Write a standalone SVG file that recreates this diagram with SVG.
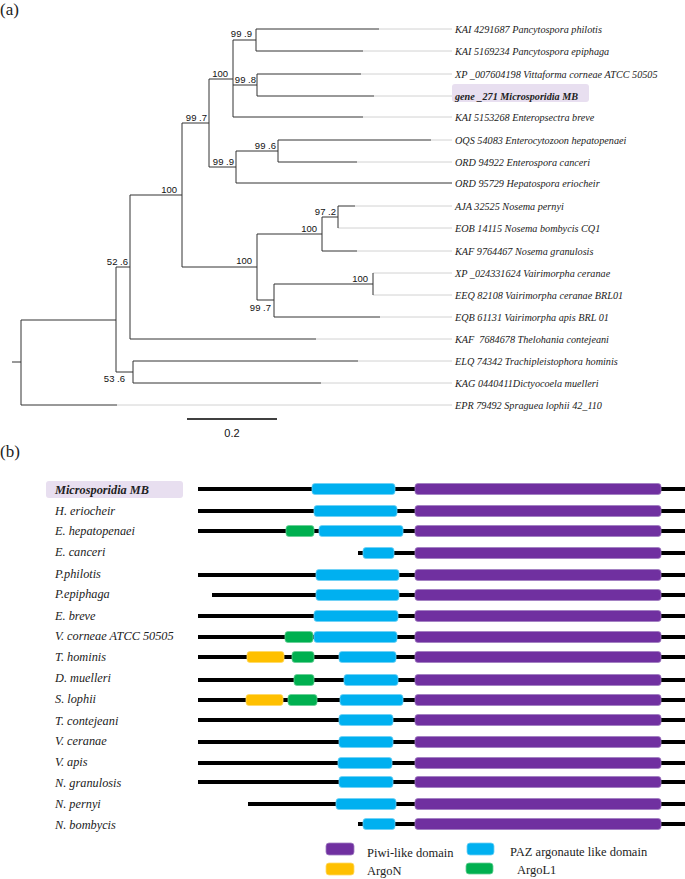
<svg xmlns="http://www.w3.org/2000/svg" width="685" height="879" viewBox="0 0 685 879">
<style>
.br{fill:none;stroke:#333;stroke-width:1}
.gr{fill:none;stroke:#d2d2d2;stroke-width:1}
.bs{font-family:"Liberation Sans",Arial,sans-serif;font-size:9.5px;fill:#111;text-anchor:end}
.lf{font-family:"Liberation Serif","Times New Roman",serif;font-style:italic;font-size:10.2px;fill:#222;white-space:pre}
.pl{font-family:"Liberation Serif","Times New Roman",serif;font-size:17px;fill:#222}
.sp{font-family:"Liberation Serif","Times New Roman",serif;font-style:italic;font-size:12.3px;fill:#222}
.lg{font-family:"Liberation Serif","Times New Roman",serif;font-size:12.5px;fill:#222}
.ln{fill:#000}
.pu{fill:#7030a0;stroke:#a07cc0;stroke-width:0.8}
.bl{fill:#00b0f0;stroke:#6fd0f5;stroke-width:0.8}
.ye{fill:#ffc000;stroke:#ffd966;stroke-width:0.8}
.gn{fill:#00b050;stroke:#66cf96;stroke-width:0.8}
.hl{fill:#e8dff0}
</style>
<text class="pl" x="0" y="15">(a)</text>
<text class="pl" x="0" y="457">(b)</text>
<g id="tree-connectors">
<path class="gr" d="M379 29H452M363 51H452M361 74H452M374 96H452M363 117H452M431 140H452M357 162H452M355 206H452M338 228H452M357 251H452M373 273H452M373 295H452M380 317H452M316 339H452M358 361H452M321 383H452M117 405H452"/>
<path class="br" d="M256 29H379M256 51H363M256 29V51M257 74H361M257 96H374M257 74V96M233 40H256M233 85H257M233 117H363M233 40V117M278 140H431M278 162H357M278 140V162M236 151H278M236 183H452M236 151V183M209 79H233M209 167H236M209 79V167M338 206H355M338 206V228M322 217H338M322 251H357M322 217V251M373 273V295M274 284H373M274 317H380M274 284V317M257 234H322M257 300H274M257 234V300M182 123H209M182 267H257M182 123V267M130 195H182M130 339H316M130 195V339M133 361H358M133 383H321M133 361V383M116 267H130M116 372H133M116 267V372M21 320H116M21 405H117M21 320V405M12 362H21"/>
<path d="M187 419H277" stroke="#000" stroke-width="1.3"/>
<text x="232" y="437" text-anchor="middle" font-family="Liberation Sans, Arial, sans-serif" font-size="11" fill="#111">0.2</text>
</g>
<g id="bootstrap">
<text class="bs" x="252" y="37">99 .9</text>
<text class="bs" x="228" y="77">100</text>
<text class="bs" x="256" y="83">99 .8</text>
<text class="bs" x="207" y="121">99 .7</text>
<text class="bs" x="177" y="193">100</text>
<text class="bs" x="276" y="149">99 .6</text>
<text class="bs" x="234" y="165">99 .9</text>
<text class="bs" x="336" y="215">97 .2</text>
<text class="bs" x="317" y="232">100</text>
<text class="bs" x="252" y="264">100</text>
<text class="bs" x="271" y="311">99 .7</text>
<text class="bs" x="368" y="282">100</text>
<text class="bs" x="128" y="265">52 .6</text>
<text class="bs" x="125" y="382">53 .6</text>
</g>
<g id="leaf-labels">
<g id="leaf0"><text class="lf" x="455" y="32.5">KAI 4291687 Pancytospora philotis</text></g>
<g id="leaf1"><text class="lf" x="455" y="54.5">KAI 5169234 Pancytospora epiphaga</text></g>
<g id="leaf2"><text class="lf" x="455" y="77.5">XP _007604198 Vittaforma corneae ATCC 50505</text></g>
<g id="leaf3"><rect class="hl" x="452" y="84" width="137" height="18" rx="3"/><text class="lf" x="455" y="99.5" font-weight="bold">gene _271 Microsporidia MB</text></g>
<g id="leaf4"><text class="lf" x="455" y="120.5">KAI 5153268 Enteropsectra breve</text></g>
<g id="leaf5"><text class="lf" x="455" y="143.5">OQS 54083 Enterocytozoon hepatopenaei</text></g>
<g id="leaf6"><text class="lf" x="455" y="165.5">ORD 94922 Enterospora canceri</text></g>
<g id="leaf7"><text class="lf" x="455" y="186.5">ORD 95729 Hepatospora eriocheir</text></g>
<g id="leaf8"><text class="lf" x="455" y="209.5">AJA 32525 Nosema pernyi</text></g>
<g id="leaf9"><text class="lf" x="455" y="231.5">EOB 14115 Nosema bombycis CQ1</text></g>
<g id="leaf10"><text class="lf" x="455" y="254.5">KAF 9764467 Nosema granulosis</text></g>
<g id="leaf11"><text class="lf" x="455" y="276.5">XP _024331624 Vairimorpha ceranae</text></g>
<g id="leaf12"><text class="lf" x="455" y="298.5">EEQ 82108 Vairimorpha ceranae BRL01</text></g>
<g id="leaf13"><text class="lf" x="455" y="320.5">EQB 61131 Vairimorpha apis BRL 01</text></g>
<g id="leaf14"><text class="lf" x="455" y="342.5">KAF  7684678 Thelohania contejeani</text></g>
<g id="leaf15"><text class="lf" x="455" y="364.5">ELQ 74342 Trachipleistophora hominis</text></g>
<g id="leaf16"><text class="lf" x="455" y="386.5">KAG 0440411Dictyocoela muelleri</text></g>
<g id="leaf17"><text class="lf" x="455" y="408.5">EPR 79492 Spraguea lophii 42_110</text></g>
</g>
<g id="domains">
<g id="row-mb"><rect class="hl" x="46" y="481" width="137" height="17" rx="3"/><text class="sp" x="55" y="493.5" font-weight="bold">Microsporidia  MB</text><rect class="ln" x="198" y="487" width="487" height="4"/><rect class="bl" x="312" y="483.5" width="83" height="11" rx="3"/><rect class="pu" x="415" y="483.5" width="246" height="11" rx="3"/></g>
<g id="row-he"><text class="sp" x="55" y="515">H. eriocheir</text><rect class="ln" x="198" y="509" width="487" height="4"/><rect class="bl" x="314" y="505.5" width="83" height="11" rx="3"/><rect class="pu" x="415" y="505.5" width="246" height="11" rx="3"/></g>
<g id="row-eh"><text class="sp" x="55" y="535">E. hepatopenaei</text><rect class="ln" x="198" y="529" width="487" height="4"/><rect class="gn" x="286" y="525.5" width="28" height="11" rx="3"/><rect class="bl" x="319" y="525.5" width="84" height="11" rx="3"/><rect class="pu" x="415" y="525.5" width="246" height="11" rx="3"/></g>
<g id="row-ec"><text class="sp" x="55" y="556">E. canceri</text><rect class="ln" x="358" y="551" width="327" height="4"/><rect class="bl" x="363" y="547.5" width="31" height="11" rx="3"/><rect class="pu" x="415" y="547.5" width="246" height="11" rx="3"/></g>
<g id="row-pp"><text class="sp" x="55" y="578">P.philotis</text><rect class="ln" x="198" y="573" width="487" height="4"/><rect class="bl" x="316" y="569.5" width="83" height="11" rx="3"/><rect class="pu" x="415" y="569.5" width="246" height="11" rx="3"/></g>
<g id="row-pe"><text class="sp" x="55" y="598">P.epiphaga</text><rect class="ln" x="212" y="593" width="473" height="4"/><rect class="bl" x="316" y="589.5" width="83" height="11" rx="3"/><rect class="pu" x="415" y="589.5" width="246" height="11" rx="3"/></g>
<g id="row-eb"><text class="sp" x="55" y="620">E. breve</text><rect class="ln" x="198" y="614" width="487" height="4"/><rect class="bl" x="314" y="610.5" width="84" height="11" rx="3"/><rect class="pu" x="415" y="610.5" width="246" height="11" rx="3"/></g>
<g id="row-vc"><text class="sp" x="55" y="640">V. corneae ATCC 50505</text><rect class="ln" x="198" y="635" width="487" height="4"/><rect class="gn" x="285" y="631.5" width="28" height="11" rx="3"/><rect class="bl" x="314" y="631.5" width="83" height="11" rx="3"/><rect class="pu" x="415" y="631.5" width="246" height="11" rx="3"/></g>
<g id="row-th"><text class="sp" x="55" y="661">T. hominis</text><rect class="ln" x="198" y="655" width="487" height="4"/><rect class="ye" x="247" y="651.5" width="37" height="11" rx="3"/><rect class="gn" x="292" y="651.5" width="22" height="11" rx="3"/><rect class="bl" x="339" y="651.5" width="57" height="11" rx="3"/><rect class="pu" x="415" y="651.5" width="246" height="11" rx="3"/></g>
<g id="row-dm"><text class="sp" x="55" y="682">D. muelleri</text><rect class="ln" x="198" y="678" width="487" height="4"/><rect class="gn" x="294" y="674.5" width="20" height="11" rx="3"/><rect class="bl" x="344" y="674.5" width="54" height="11" rx="3"/><rect class="pu" x="415" y="674.5" width="246" height="11" rx="3"/></g>
<g id="row-sl"><text class="sp" x="55" y="703">S. lophii</text><rect class="ln" x="198" y="698" width="487" height="4"/><rect class="ye" x="246" y="694.5" width="37" height="11" rx="3"/><rect class="gn" x="288" y="694.5" width="29" height="11" rx="3"/><rect class="bl" x="340" y="694.5" width="63" height="11" rx="3"/><rect class="pu" x="415" y="694.5" width="246" height="11" rx="3"/></g>
<g id="row-tc"><text class="sp" x="55" y="725">T. contejeani</text><rect class="ln" x="198" y="718" width="487" height="4"/><rect class="bl" x="339" y="714.5" width="54" height="11" rx="3"/><rect class="pu" x="415" y="714.5" width="246" height="11" rx="3"/></g>
<g id="row-vce"><text class="sp" x="55" y="745">V. ceranae</text><rect class="ln" x="198" y="740" width="487" height="4"/><rect class="bl" x="339" y="736.5" width="54" height="11" rx="3"/><rect class="pu" x="415" y="736.5" width="246" height="11" rx="3"/></g>
<g id="row-va"><text class="sp" x="55" y="766">V. apis</text><rect class="ln" x="198" y="761" width="487" height="4"/><rect class="bl" x="338" y="757.5" width="54" height="11" rx="3"/><rect class="pu" x="415" y="757.5" width="246" height="11" rx="3"/></g>
<g id="row-ng"><text class="sp" x="55" y="787">N. granulosis</text><rect class="ln" x="198" y="780" width="487" height="4"/><rect class="bl" x="339" y="776.5" width="54" height="11" rx="3"/><rect class="pu" x="415" y="776.5" width="246" height="11" rx="3"/></g>
<g id="row-np"><text class="sp" x="55" y="808">N. pernyi</text><rect class="ln" x="248" y="802" width="437" height="4"/><rect class="bl" x="336" y="798.5" width="60" height="11" rx="3"/><rect class="pu" x="415" y="798.5" width="246" height="11" rx="3"/></g>
<g id="row-nb"><text class="sp" x="55" y="829">N. bombycis</text><rect class="ln" x="358" y="822" width="327" height="4"/><rect class="bl" x="363" y="818.5" width="32" height="11" rx="3"/><rect class="pu" x="415" y="818.5" width="246" height="11" rx="3"/></g>
</g>
<g id="legend">
<g id="lg-piwi"><rect class="pu" x="326" y="843" width="28" height="12" rx="3"/><text class="lg" x="367" y="857">Piwi-like domain</text></g>
<g id="lg-paz"><rect class="bl" x="467" y="843" width="27" height="12" rx="3"/><text class="lg" x="510" y="856">PAZ argonaute like domain</text></g>
<g id="lg-argon"><rect class="ye" x="326" y="863" width="28" height="12" rx="3"/><text class="lg" x="367" y="875">ArgoN</text></g>
<g id="lg-argol1"><rect class="gn" x="466" y="863" width="27" height="11" rx="3"/><text class="lg" x="517" y="874">ArgoL1</text></g>
</g>
</svg>
